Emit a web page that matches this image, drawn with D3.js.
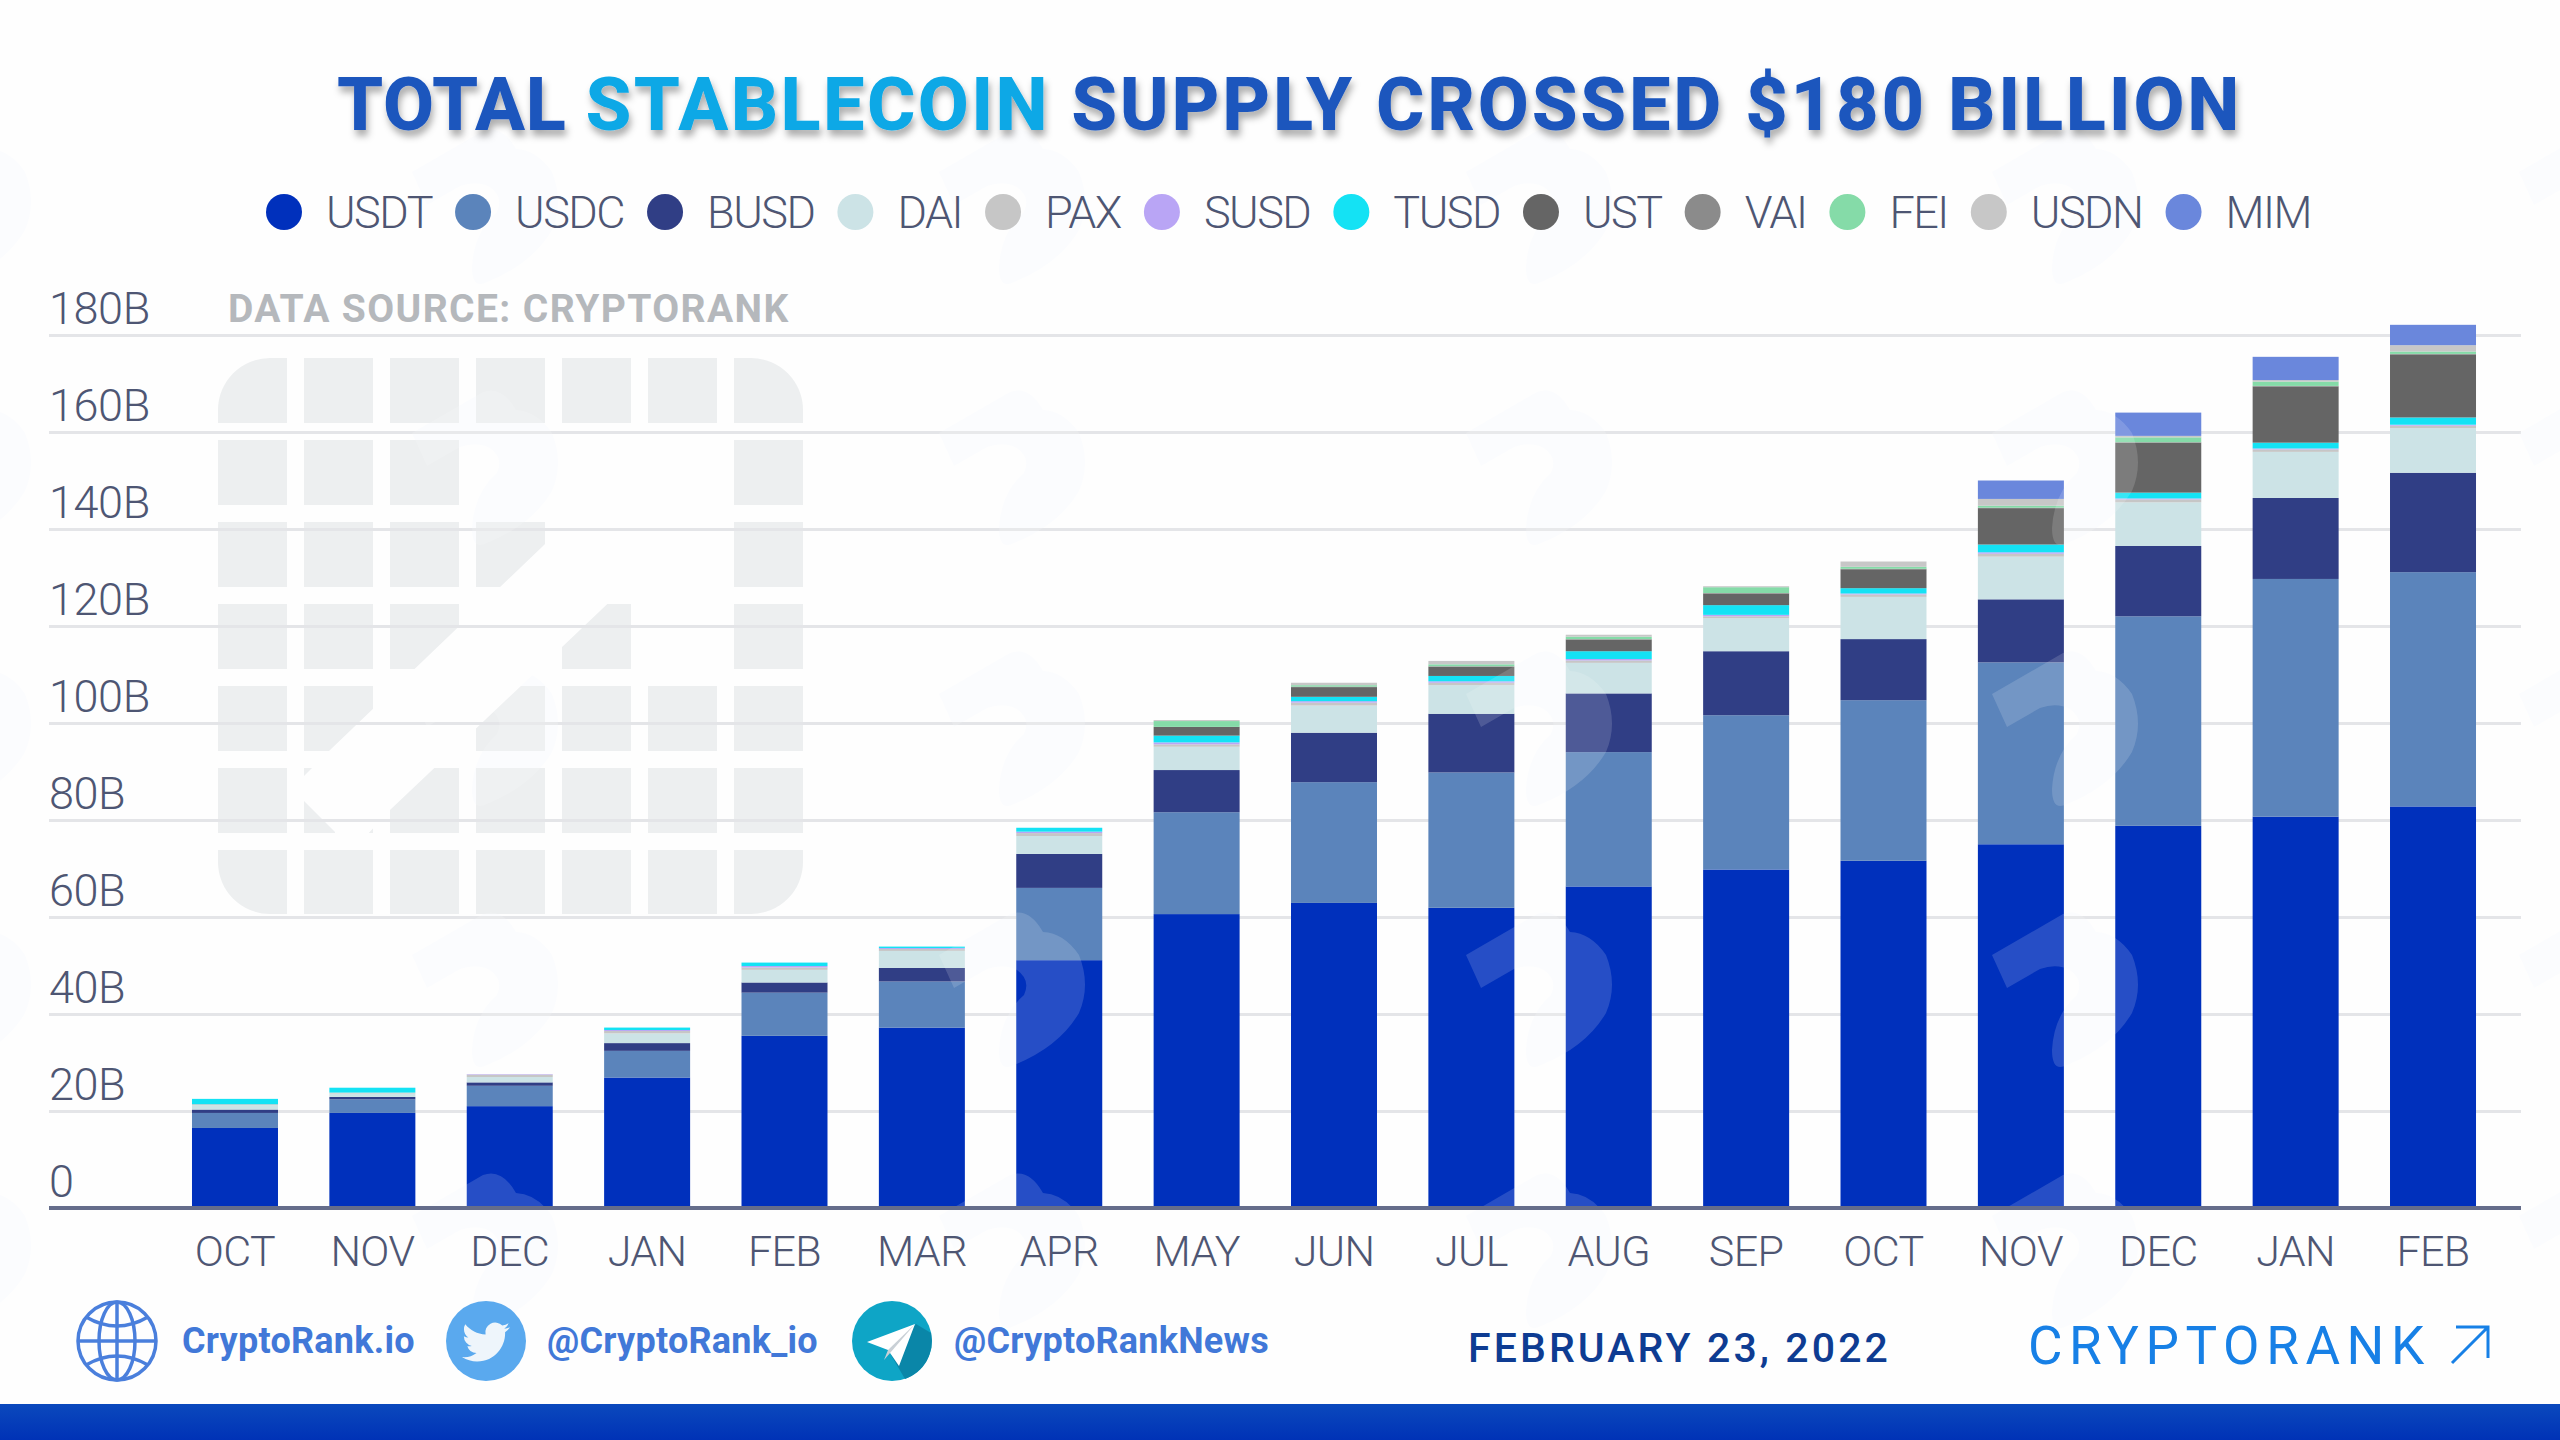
<!DOCTYPE html>
<html><head><meta charset="utf-8">
<script src="https://cdn.jsdelivr.net/npm/d3@7/dist/d3.min.js"></script>
<style>html,body{margin:0;padding:0;background:#fff}svg{display:block}text{font-family:Roboto,sans-serif}</style>
</head><body><div id="c"></div>
<script>
const months=["OCT","NOV","DEC","JAN","FEB","MAR","APR","MAY","JUN","JUL","AUG","SEP","OCT","NOV","DEC","JAN","FEB"];
const seriesNames=["USDT","USDC","BUSD","DAI","PAX","SUSD","TUSD","UST","VAI","FEI","USDN","MIM"];
const seriesColors=["#0030bc","#5b84bb","#303e85","#cce3e6","#c6c6c6","#b9a5f5","#14e2f4","#656565","#8b8b8b","#85dba8","#c7c7c7","#6a87dc"];
const USDT=[16.5,19.6,21.0,26.9,35.5,37.2,51.1,60.6,62.9,61.9,66.3,69.8,71.6,75.0,78.8,80.7,82.8];
const USDC=[3.1,2.8,4.2,5.5,8.9,9.5,14.9,21.0,24.9,27.9,27.7,31.8,33.1,37.5,43.2,49.0,48.3];
const BUSD=[0.7,0.5,0.7,1.6,2.1,2.8,7.0,8.7,10.2,12.1,12.1,13.2,12.6,13.0,14.5,16.7,20.5];
const DAI=[0.9,0.7,1.1,2.0,2.6,3.5,3.7,4.8,5.6,5.9,6.3,6.8,8.7,8.8,9.0,9.5,9.2];
const PAX=[0.2,0.2,0.5,0.5,0.5,0.4,0.6,0.5,0.6,0.5,0.5,0.4,0.5,0.6,0.6,0.5,0.5];
const SUSD=[0,0,0.1,0.2,0.3,0.2,0.3,0.4,0.3,0.3,0.3,0.3,0.2,0.3,0.2,0.2,0.2];
const TUSD=[1.1,1.0,0,0.5,0.7,0.3,0.8,1.4,0.9,1.1,1.6,2.0,1.1,1.6,1.2,1.2,1.5];
const UST=[0,0,0,0,0,0,0,1.8,2.0,1.9,2.4,2.4,3.9,7.5,10.3,11.6,13.0];
const VAI=[0,0,0,0,0,0,0,0,0.1,0.1,0.1,0.1,0.1,0.1,0.1,0.1,0.1];
const FEI=[0,0,0,0,0,0,0,1.2,0.3,0.4,0.5,1.2,0.4,0.4,1.0,0.9,0.5];
const USDN=[0,0,0,0,0,0,0,0.2,0.5,0.7,0.4,0.2,1.1,1.4,0.3,0.3,1.3];
const MIM=[0,0,0,0,0,0,0,0,0,0,0,0,0,3.8,4.8,4.8,4.2];
const yTicks=[0,20,40,60,80,100,120,140,160,180];
const yTickLabels=["0","20B","40B","60B","80B","100B","120B","140B","160B","180B"];
const titleParts=["TOTAL ","STABLECOIN"," SUPPLY CROSSED $180 BILLION"];
const titleSpacing=["0.7px","2.35px","2.75px"];
const logoKeep=["1111111","1110001","1111001","1110101","1101111","1111111","1111111"];

const table=months.map((m,i)=>{const o={i};[USDT,USDC,BUSD,DAI,PAX,SUSD,TUSD,UST,VAI,FEI,USDN,MIM].forEach((s,k)=>o[seriesNames[k]]=s[i]);return o;});
const W=2560,H=1440;
const svg=d3.select("#c").append("svg").attr("width",W).attr("height",H).attr("viewBox",`0 0 ${W} ${H}`);
const defs=svg.append("defs");
const f=defs.append("filter").attr("id","ts").attr("x","-5%").attr("y","-20%").attr("width","110%").attr("height","160%");
f.append("feDropShadow").attr("dx",2).attr("dy",6).attr("stdDeviation",3.5).attr("flood-color","#000").attr("flood-opacity",.32);
const lg=defs.append("linearGradient").attr("id","band").attr("x1",0).attr("x2",0).attr("y1",0).attr("y2",1);
lg.append("stop").attr("offset","0").attr("stop-color","#0b49bd");
lg.append("stop").attr("offset","1").attr("stop-color","#0032b6");

svg.append("rect").attr("width",W).attr("height",H).attr("fill","#fefefe");

// faint tiled background glyph
const glyph="M0,0 L71,-41 Q90,-48 104,-23 Q125,-22 140,0 Q152,30 140,58 Q120,92 75,110 Q60,118 60,95 Q62,60 85,40 Q92,25 78,15 Q65,8 48,14 L15,33 Z";
const tileX=[-115,412,939,1466,1992,2519], tileY=[172,433,694,955,1216];
const tiles=tileY.flatMap(ty=>tileX.map(tx=>[tx,ty]));
svg.append("g").attr("fill","#fbfcfe").selectAll("path").data(tiles).join("path").attr("d",glyph).attr("transform",d=>`translate(${d[0]},${d[1]})`);

// watermark logo
const lx=d3.scaleLinear().domain([0,7]).range([218,820]);
const ly=d3.scaleLinear().domain([0,7]).range([358,932]);
const logo=svg.append("g").attr("fill","#edeff0");
defs.append("clipPath").attr("id","logoClip").append("rect").attr("x",218).attr("y",358).attr("width",585).attr("height",556).attr("rx",52);
const lg2=logo.append("g").attr("clip-path","url(#logoClip)");
logoKeep.forEach((row,r)=>row.split("").forEach((v,c)=>{ if(v==="1") lg2.append("rect").attr("x",lx(c)).attr("y",ly(r)).attr("width",69).attr("height",65);}));
logo.append("polygon").attr("fill","#fefefe").attr("points","660,430 543,546 329,751 295,785 304,801 335,832 335,836 366,836 390,810 561,648 660,554");

// scales
const x=d3.scaleBand().domain(d3.range(months.length)).range([166.3,2501.7]).paddingInner(.374).paddingOuter(.187);
const y=d3.scaleLinear().domain([0,180]).range([1208,335]);

// grid + y labels
const ya=svg.append("g").attr("transform","translate(49,0)").call(
  d3.axisRight(y).tickValues(yTicks).tickSize(2472).tickFormat((d,i)=>yTickLabels[i]));
ya.select(".domain").remove();
ya.selectAll("line").attr("stroke","#e4e5e8").attr("stroke-width",3);
ya.selectAll("text").attr("x",0).attr("dy",-12).attr("y",0).attr("text-anchor","start")
  .attr("font-size",45).attr("font-weight",300).attr("fill","#4e5673").style("letter-spacing","-0.4px");

// bars
const stack=d3.stack().keys(seriesNames)(table);
svg.append("g").selectAll("g").data(stack).join("g").attr("fill",(d,i)=>seriesColors[i])
  .selectAll("rect").data(d=>d).join("rect")
  .attr("x",d=>x(d.data.i)).attr("width",x.bandwidth())
  .attr("y",d=>y(d[1])).attr("height",d=>Math.max(0,y(d[0])-y(d[1])));

// glyph veil over the bars
defs.append("clipPath").attr("id","plotClip").append("rect").attr("x",0).attr("y",150).attr("width",W).attr("height",1058);
svg.append("g").attr("clip-path","url(#plotClip)").attr("fill","#fff").attr("fill-opacity",.15).selectAll("path").data(tiles).join("path").attr("d",glyph).attr("transform",d=>`translate(${d[0]},${d[1]})`);

// x axis
const xa=svg.append("g").attr("transform","translate(0,1208)").call(
  d3.axisBottom(x).tickSize(0).tickPadding(27).tickFormat(i=>months[i]));
xa.select(".domain").remove();
xa.selectAll("text").attr("font-size",43).attr("font-weight",300).attr("fill","#4e5673").style("letter-spacing","-0.6px");
svg.append("line").attr("x1",49).attr("x2",2521).attr("y1",y(0)).attr("y2",y(0)).attr("stroke","#656d8b").attr("stroke-width",4);

// title
const t=svg.append("text").attr("x",337).attr("y",130).attr("font-size",74).attr("font-weight",800).attr("filter","url(#ts)");
t.selectAll("tspan").data(titleParts).join("tspan").text(d=>d).attr("fill",(d,i)=>i===1?"#0ea8e6":"#1d56bd").style("white-space","pre").style("letter-spacing",(d,i)=>titleSpacing[i]);

// legend
let lxp=284;
const leg=svg.append("g");
seriesNames.forEach((n,i)=>{
  leg.append("circle").attr("cx",lxp).attr("cy",212).attr("r",18).attr("fill",seriesColors[i]);
  const tx=leg.append("text").attr("x",lxp+42).attr("y",228).attr("font-size",45).attr("font-weight",300).attr("fill","#4e5673").style("letter-spacing","-1.5px").text(n);
  lxp+=42+tx.node().getComputedTextLength()+41;
});

svg.append("text").attr("x",228).attr("y",322).attr("font-size",39).attr("font-weight",700).attr("fill","#b5b8bc").style("letter-spacing","1.4px").text("DATA SOURCE: CRYPTORANK");

// footer
svg.append("rect").attr("x",0).attr("y",1404).attr("width",W).attr("height",36).attr("fill","url(#band)");
const ft=svg.append("g");
const globe=ft.append("g").attr("transform","translate(117,1341)").attr("fill","none").attr("stroke","#4a7fdc").attr("stroke-width",3.5);
globe.append("circle").attr("r",39);
globe.append("ellipse").attr("rx",18).attr("ry",39);
globe.append("line").attr("y1",-39).attr("y2",39);
globe.append("line").attr("x1",-39).attr("x2",39);
globe.append("path").attr("d","M-31,-24Q0,-6 31,-24M-31,24Q0,6 31,24");
ft.append("circle").attr("cx",486).attr("cy",1341).attr("r",40).attr("fill","#5aa9ee");
ft.append("path").attr("transform","translate(462,1318) scale(2)").attr("fill","#eef5fb").attr("d","M23.953 4.57a10 10 0 01-2.825.775 4.958 4.958 0 002.163-2.723c-.951.555-2.005.959-3.127 1.184a4.92 4.92 0 00-8.384 4.482C7.69 8.095 4.067 6.13 1.64 3.162a4.822 4.822 0 00-.666 2.475c0 1.71.87 3.213 2.188 4.096a4.904 4.904 0 01-2.228-.616v.06a4.923 4.923 0 003.946 4.827 4.996 4.996 0 01-2.212.085 4.936 4.936 0 004.604 3.417 9.867 9.867 0 01-6.102 2.105c-.39 0-.779-.023-1.17-.067a13.995 13.995 0 007.557 2.209c9.053 0 13.998-7.496 13.998-13.985 0-.21 0-.42-.015-.63A9.935 9.935 0 0024 4.59z");
ft.append("circle").attr("cx",892).attr("cy",1341).attr("r",40).attr("fill","#0ea5c6");
ft.append("path").attr("fill","#0a86a8").attr("d","M916,1324 L891,1355 L905,1379 A40,40 0 0 0 931,1333 Z");
ft.append("path").attr("fill","#ffffff").attr("d","M867,1342 L915,1324 L899,1366 L888,1350 Z");
ft.append("path").attr("fill","#c9d0d6").attr("d","M915,1324 L888,1350 L884,1360 Z");
[["CryptoRank.io",182],["@CryptoRank_io",547],["@CryptoRankNews",954]].forEach(a=>
  ft.append("text").attr("x",a[1]).attr("y",1353).attr("font-size",36).attr("font-weight",700).attr("fill","#4178d8").style("letter-spacing","0.25px").text(a[0]));
ft.append("text").attr("x",1468).attr("y",1362).attr("font-size",41).attr("font-weight",500).attr("fill","#0e3c92").style("letter-spacing","3.1px").text("FEBRUARY 23, 2022");
ft.append("text").attr("x",2028).attr("y",1364).attr("font-size",53).attr("font-weight",400).attr("fill","#1780e6").style("letter-spacing","6.6px").text("CRYPTORANK");
ft.append("path").attr("fill","none").attr("stroke","#1780e6").attr("stroke-width",3).attr("d","M2452,1363L2488,1327M2456,1327H2488V1358");
</script></body></html>
